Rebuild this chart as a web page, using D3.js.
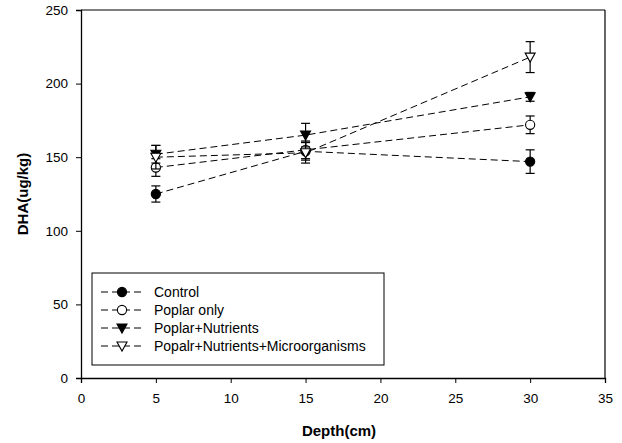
<!DOCTYPE html>
<html>
<head>
<meta charset="utf-8">
<script src="https://cdn.jsdelivr.net/npm/d3@7"></script>
<style>
  body { margin: 0; background: #fff; }
  text { font-family: "Liberation Sans", Arial, sans-serif; }
</style>
</head>
<body>
<script>
// data
var depths = [5, 15, 30];
var seriesNames = ["Control", "Poplar only", "Poplar+Nutrients", "Popalr+Nutrients+Microorganisms"];
var control = [125, 154, 147];
var controlErr = [5.5, 6, 8];
var poplarOnly = [143, 155, 172];
var poplarOnlyErr = [6, 6, 6];
var poplarNut = [152, 165, 191];
var poplarNutErr = [6, 8, 3];
var poplarNutMicro = [150, 153, 218];
var poplarNutMicroErr = [8, 7, 10.5];
var xTicks = [0, 5, 10, 15, 20, 25, 30, 35];
var yTicks = [0, 50, 100, 150, 200, 250];

var width = 622, height = 443;
var svg = d3.select("body").append("svg")
  .attr("width", width)
  .attr("height", height);

var x = d3.scaleLinear().domain([0, 35]).range([81, 605]);
var y = d3.scaleLinear().domain([0, 250]).range([378, 10]);

var series = [
  { name: seriesNames[0], v: control, e: controlErr, sym: d3.symbolCircle, fill: "#000" },
  { name: seriesNames[1], v: poplarOnly, e: poplarOnlyErr, sym: d3.symbolCircle, fill: "#fff" },
  { name: seriesNames[2], v: poplarNut, e: poplarNutErr, sym: "down", fill: "#000" },
  { name: seriesNames[3], v: poplarNutMicro, e: poplarNutMicroErr, sym: "down", fill: "#fff" }
];

function marker(g, s, cx, cy) {
  if (s.sym === "down") {
    g.append("path")
      .attr("d", "M" + (cx - 5) + "," + (cy - 4) + "L" + (cx + 5) + "," + (cy - 4) + "L" + cx + "," + (cy + 5) + "Z")
      .attr("fill", s.fill).attr("stroke", "#000").attr("stroke-width", 1.1);
  } else {
    g.append("circle").attr("cx", cx).attr("cy", cy).attr("r", 4.6)
      .attr("fill", s.fill).attr("stroke", "#000").attr("stroke-width", 1.1);
  }
}

// frame
svg.append("line").attr("x1", x(0)).attr("x2", x(35)).attr("y1", y(250)).attr("y2", y(250)).attr("stroke", "#000").attr("stroke-width", 1.2);
svg.append("line").attr("x1", x(35)).attr("x2", x(35)).attr("y1", y(250)).attr("y2", y(0)).attr("stroke", "#000").attr("stroke-width", 1.2);

var xAxis = svg.append("g").attr("transform", "translate(0," + y(0) + ")")
  .call(d3.axisBottom(x).tickValues(xTicks).tickSize(5).tickPadding(10));
var yAxis = svg.append("g").attr("transform", "translate(" + x(0) + ",0)")
  .call(d3.axisLeft(y).tickValues(yTicks).tickSize(5).tickPadding(8));
[xAxis, yAxis].forEach(function (a) {
  a.select(".domain").attr("stroke-width", 1.3);
  a.selectAll("text").attr("font-size", 13.5).attr("fill", "#000")
    .style("font-family", "'Liberation Sans', Arial, sans-serif");
});

svg.append("text").attr("x", 339).attr("y", 436)
  .attr("text-anchor", "middle").attr("font-size", 15).attr("font-weight", "bold").text("Depth(cm)");
svg.append("text").attr("transform", "translate(28," + y(125) + ") rotate(-90)")
  .attr("text-anchor", "middle").attr("font-size", 15).attr("font-weight", "bold").text("DHA(ug/kg)");

var line = d3.line().x(function (d, i) { return x(depths[i]); }).y(function (d) { return y(d); });

series.forEach(function (s) {
  svg.append("path").attr("d", line(s.v)).attr("fill", "none")
    .attr("stroke", "#000").attr("stroke-width", 1).attr("stroke-dasharray", "7,4");
});

series.forEach(function (s) {
  var g = svg.append("g");
  s.v.forEach(function (v, i) {
    var cx = x(depths[i]);
    g.append("line").attr("x1", cx).attr("x2", cx).attr("y1", y(v - s.e[i])).attr("y2", y(v + s.e[i])).attr("stroke", "#000").attr("stroke-width", 1.2);
    [v - s.e[i], v + s.e[i]].forEach(function (w) {
      g.append("line").attr("x1", cx - 4.5).attr("x2", cx + 4.5).attr("y1", y(w)).attr("y2", y(w)).attr("stroke", "#000").attr("stroke-width", 1.2);
    });
    marker(g, s, cx, y(v));
  });
});

// legend
var lg = svg.append("g");
lg.append("rect").attr("x", 92).attr("y", 273).attr("width", 292).attr("height", 92)
  .attr("fill", "#fff").attr("stroke", "#000").attr("stroke-width", 1);
series.forEach(function (s, i) {
  var ly = 292 + i * 18;
  lg.append("line").attr("x1", 101).attr("x2", 141).attr("y1", ly).attr("y2", ly)
    .attr("stroke", "#000").attr("stroke-width", 1).attr("stroke-dasharray", "7,4");
  marker(lg, s, 122, ly);
  lg.append("text").attr("x", 154).attr("y", ly + 5).attr("font-size", 14).text(s.name);
});
</script>
</body>
</html>
